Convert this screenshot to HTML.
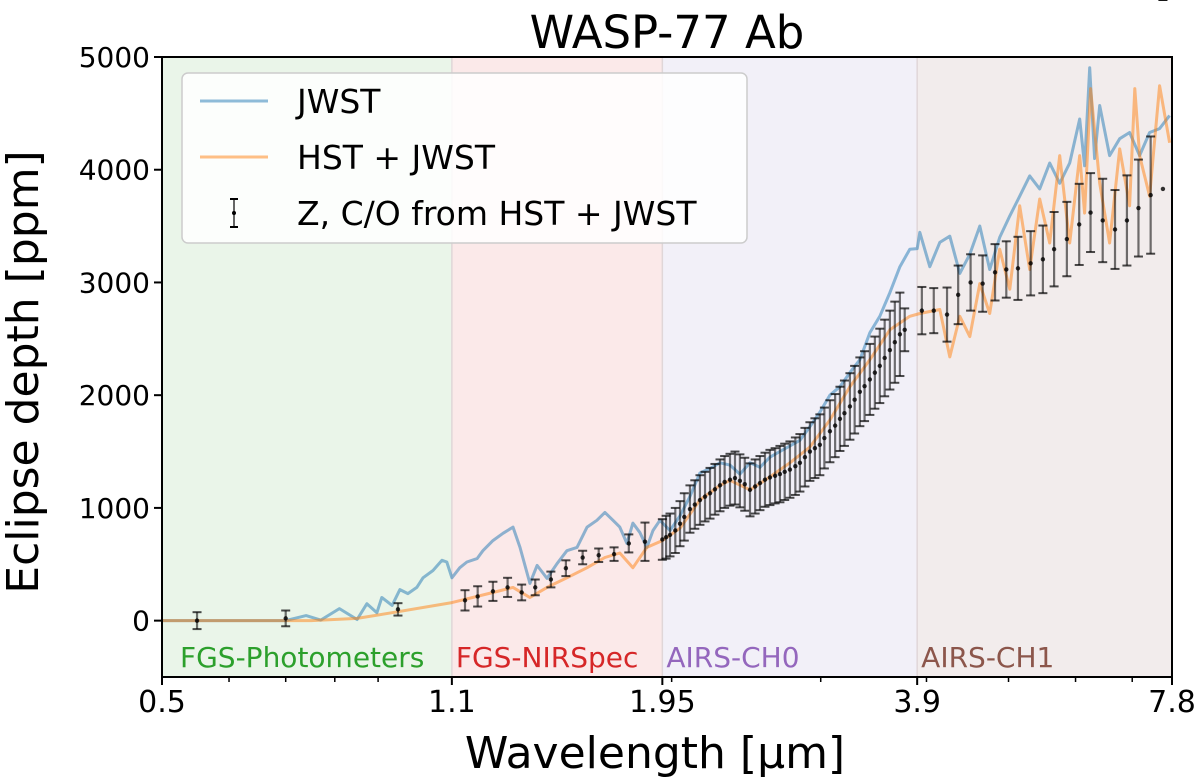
<!DOCTYPE html>
<html><head><meta charset="utf-8"><style>
html,body{margin:0;padding:0;background:#fff;overflow:hidden;}
svg{display:block;font-family:"DejaVu Sans","Liberation Sans",sans-serif;}
</style></head><body>
<svg id="chart" width="1200" height="782" viewBox="0 0 1200 782" xmlns="http://www.w3.org/2000/svg">
<g id="bands"></g><g id="series"></g><g id="axes"></g><g id="legend"></g>
</svg>
<script>
const jwstWl=[0.5,0.70,0.74,0.77,0.81,0.85,0.873,0.897,0.909,0.935,0.955,0.976,1.0,1.017,1.045,1.071,1.085,1.10,1.124,1.146,1.178,1.197,1.23,1.264,1.299,1.324,1.36,1.387,1.425,1.464,1.504,1.546,1.589,1.632,1.668,1.705,1.737,1.771,1.80,1.835,1.87,1.901,1.937,1.991,2.046,2.102,2.16,2.22,2.281,2.344,2.408,2.475,2.543,2.613,2.685,2.759,2.835,2.913,2.993,3.076,3.161,3.248,3.337,3.429,3.523,3.621,3.721,3.823,3.9,3.928,4.036,4.148,4.262,4.379,4.5,4.624,4.751,4.882,5.017,5.155,5.297,5.443,5.593,5.747,5.905,6.068,6.15,6.235,6.32,6.407,6.583,6.765,6.951,7.142,7.339,7.541,7.749];
const jwstVal=[0,0,45,5,107,10,150,70,205,135,275,240,295,380,445,535,520,380,470,520,550,620,710,775,830,650,330,490,375,505,620,650,830,890,960,890,830,685,865,780,650,800,890,800,930,1100,1310,1350,1400,1380,1300,1400,1360,1450,1500,1550,1600,1720,1850,2000,2075,2200,2315,2555,2700,2910,3140,3295,3300,3445,3140,3355,3410,3080,3250,3500,3115,3400,3590,3765,3945,3830,4060,3880,4060,4450,4035,4905,4100,4570,4125,4275,4330,4125,4330,4365,4480];
const hstWl=[0.5,0.75,0.85,0.935,1.1,1.23,1.299,1.36,1.425,1.504,1.589,1.668,1.737,1.80,1.87,1.95,2.046,2.16,2.281,2.344,2.475,2.613,2.759,2.913,3.076,3.248,3.429,3.621,3.823,3.928,4.148,4.262,4.379,4.5,4.624,4.751,4.882,5.017,5.155,5.297,5.443,5.593,5.747,5.905,6.068,6.15,6.25,6.407,6.583,6.765,6.951,7.05,7.142,7.339,7.541,7.749];
const hstVal=[0,0,20,70,160,250,295,205,295,380,470,560,600,470,650,710,820,1070,1200,1245,1160,1275,1400,1540,1780,2075,2315,2580,2700,2725,2760,2340,2700,2520,2990,2725,3295,2940,3680,3115,3740,3350,4125,3350,4125,3615,4720,3880,3350,4185,3680,4720,4125,3765,4745,4240];
const modelWl=[0.55,0.70,0.95,1.14,1.18,1.23,1.28,1.33,1.38,1.44,1.50,1.57,1.64,1.71,1.78,1.86,1.95,1.97,1.991,2.02,2.046,2.07,2.102,2.13,2.16,2.19,2.22,2.25,2.281,2.31,2.344,2.376,2.408,2.44,2.475,2.51,2.543,2.578,2.613,2.65,2.685,2.72,2.759,2.80,2.835,2.874,2.913,2.953,2.993,3.03,3.076,3.12,3.161,3.2,3.248,3.29,3.337,3.38,3.429,3.476,3.523,3.57,3.621,3.67,3.721,3.77,3.95,4.08,4.23,4.36,4.51,4.66,4.82,4.97,5.13,5.31,5.49,5.66,5.86,6.06,6.25,6.46,6.68,6.90,7.12,7.36,7.61];
const modelVal=[0,20,100,180,215,260,295,250,295,365,465,560,580,590,685,700,720,740,760,800,860,920,990,1030,1070,1100,1130,1165,1200,1230,1250,1265,1240,1210,1160,1190,1220,1250,1270,1285,1300,1320,1340,1370,1400,1450,1500,1530,1560,1620,1680,1730,1790,1840,1900,1960,2030,2080,2140,2200,2260,2330,2400,2470,2540,2580,2750,2750,2715,2890,3000,2990,3090,3115,3125,3170,3205,3295,3385,3515,3620,3550,3470,3550,3660,3775,3830];
const modelErr=[75,70,55,90,90,85,85,70,70,70,70,60,60,60,80,170,180,190,190,200,200,210,210,215,220,220,225,225,230,230,230,235,235,235,235,240,240,240,245,245,250,250,250,255,255,260,260,265,270,270,275,280,285,290,295,300,305,310,315,320,330,340,350,360,370,190,210,200,240,260,250,250,250,250,280,285,300,330,330,360,350,370,350,400,430,520];
const xTicks=[0.5,1.1,1.95,3.9,7.8];
const xTickLabels=["0.5","1.1","1.95","3.9","7.8"];
const xMinor=[0.6,0.7,0.8,0.9,2,3,4,5,6,7];
const yTicks=[0,1000,2000,3000,4000,5000];
const bandEdges=[0.5,1.1,1.95,3.9,7.8];
const bandNames=["FGS-Photometers","FGS-NIRSpec","AIRS-CH0","AIRS-CH1"];

const L=162,R=1172,T=57,B=677,XMIN=0.5,XMAX=7.8,YMIN=-500,YMAX=5000;
const xs=v=>L+Math.log(v/XMIN)/Math.log(XMAX/XMIN)*(R-L);
const ys=v=>B-(v-YMIN)/(YMAX-YMIN)*(B-T);
const NS="http://www.w3.org/2000/svg";
function mk(tag,attrs,parent){const e=document.createElementNS(NS,tag);for(const k in attrs)e.setAttribute(k,attrs[k]);parent.appendChild(e);return e;}
const gB=document.getElementById('bands'),gS=document.getElementById('series'),gA=document.getElementById('axes'),gL=document.getElementById('legend');
const bandFill=["#eaf5e9","#fbe9e9","#f2f0f8","#f2ecec"];
const bandText=["#2ca02c","#d62728","#9467bd","#8c564b"];
for(let i=0;i<4;i++){
  const r=mk('rect',{x:xs(bandEdges[i]),y:T,width:xs(bandEdges[i+1])-xs(bandEdges[i]),height:B-T,fill:bandFill[i]},gB);
  
  
  if(i>0){const ln=mk('line',{x1:xs(bandEdges[i]),x2:xs(bandEdges[i]),y1:T,y2:B,stroke:"#e0d6d8","stroke-width":1.5},gB);
  
  }
  const t=mk('text',{x:xs(bandEdges[i])+(i==0?18:4),y:667,fill:bandText[i],"font-size":28},gB);
  t.textContent=bandNames[i];
  
  
}
function pathOf(wl,val){return wl.map((w,i)=>(i?'L':'M')+xs(w).toFixed(1)+','+ys(val[i]).toFixed(1)).join('');}
const pj=mk('path',{d:pathOf(jwstWl,jwstVal),fill:"none",stroke:"#1f77b4","stroke-opacity":0.5,"stroke-width":3,"stroke-linejoin":"round"},gS);


const ph=mk('path',{d:pathOf(hstWl,hstVal),fill:"none",stroke:"#ff7f0e","stroke-opacity":0.5,"stroke-width":3,"stroke-linejoin":"round"},gS);


for(let i=0;i<modelWl.length;i++){
  const g=mk('g',{},gS);
  
  
  const x=xs(modelWl[i]),y1=ys(modelVal[i]-modelErr[i]),y2=ys(modelVal[i]+modelErr[i]);
  mk('line',{x1:x,x2:x,y1:y1,y2:y2,stroke:"#000","stroke-opacity":0.55,"stroke-width":2.2},g);
  mk('line',{x1:x-4.5,x2:x+4.5,y1:y1,y2:y1,stroke:"#000","stroke-opacity":0.7,"stroke-width":2},g);
  mk('line',{x1:x-4.5,x2:x+4.5,y1:y2,y2:y2,stroke:"#000","stroke-opacity":0.7,"stroke-width":2},g);
  mk('circle',{cx:x,cy:ys(modelVal[i]),r:2.2,fill:"#000","fill-opacity":0.8},g);
}
const frame=mk('rect',{x:L,y:T,width:R-L,height:B-T,fill:"none",stroke:"#000","stroke-width":2},gA);


xTicks.forEach((v,i)=>{
  mk('line',{x1:xs(v),x2:xs(v),y1:B,y2:B+8,stroke:"#000","stroke-width":2},gA);
  const t=mk('text',{x:xs(v),y:712,"text-anchor":"middle","font-size":30},gA);
  t.textContent=xTickLabels[i];
  
  
});
xMinor.forEach(v=>mk('line',{x1:xs(v),x2:xs(v),y1:B,y2:B+5,stroke:"#000","stroke-width":1.5},gA));
yTicks.forEach(v=>{
  mk('line',{x1:L-8,x2:L,y1:ys(v),y2:ys(v),stroke:"#000","stroke-width":2},gA);
  const t=mk('text',{x:L-12,y:ys(v)+10,"text-anchor":"end","font-size":28},gA);
  t.textContent=String(v);
  
  
});
const title=mk('text',{x:667,y:48,"text-anchor":"middle","font-size":45},gA);
title.textContent="WASP-77 Ab";


const xl=mk('text',{x:655,y:768,"text-anchor":"middle","font-size":44},gA);
xl.textContent="Wavelength [\u03bcm]";


const yl=mk('text',{x:0,y:0,"text-anchor":"middle","font-size":44,transform:"translate(38,372) rotate(-90)"},gA);
yl.textContent="Eclipse depth [ppm]";


const lb=mk('rect',{x:182,y:73,width:565,height:170,rx:6,fill:"#fff","fill-opacity":0.85,stroke:"#ccc","stroke-width":1.5},gL);


const entries=[["JWST","#1f77b4",101],["HST + JWST","#ff7f0e",157],["Z, C/O from HST + JWST","#000",213]];
entries.forEach((e,i)=>{
  const g=mk('g',{},gL);
  
  
  if(i<2) mk('line',{x1:200,x2:268,y1:e[2],y2:e[2],stroke:e[1],"stroke-opacity":0.5,"stroke-width":3},g);
  else{mk('line',{x1:234,x2:234,y1:e[2]-14,y2:e[2]+14,stroke:"#000","stroke-opacity":0.6,"stroke-width":2},g);
    mk('line',{x1:230,x2:238,y1:e[2]-14,y2:e[2]-14,stroke:"#000","stroke-width":2},g);
    mk('line',{x1:230,x2:238,y1:e[2]+14,y2:e[2]+14,stroke:"#000","stroke-width":2},g);
    mk('circle',{cx:234,cy:e[2],r:2,fill:"#000"},g);}
  const t=mk('text',{x:297,y:e[2]+12,"font-size":33},g);
  t.textContent=e[0];
});
</script>
</body></html>
